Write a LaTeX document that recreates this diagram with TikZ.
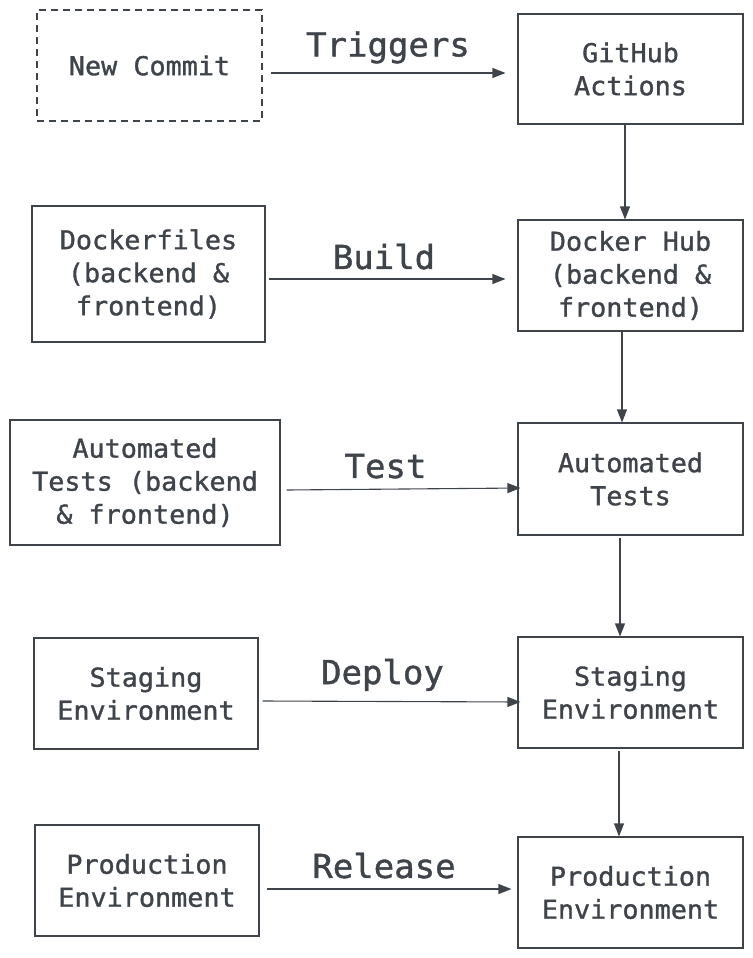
\documentclass[tikz,border=0pt]{standalone}
\usepackage{fontspec}
\usetikzlibrary{arrows.meta}
\newfontfamily\diagmono[FakeStretch=1.03,FakeBold=1.2]{DejaVu Sans Mono}
\definecolor{ink}{HTML}{3F444B}
\tikzset{
  box/.style={draw=ink, line width=1.1pt, text=ink, align=center,
    font=\diagmono\fontsize{26}{33}\selectfont, inner sep=0pt},
  lbl/.style={text=ink, font=\diagmono\fontsize{33}{38}\selectfont, inner sep=0pt},
  arr/.style={draw=ink, line width=1.1pt, -{Triangle[length=13pt,width=10pt]}}
}
\begin{document}
\begin{tikzpicture}[x=1pt,y=-1pt]
\useasboundingbox (0,0) rectangle (752,958);
% left column
\node[box, dashed, dash pattern=on 7pt off 5pt, minimum width=225pt, minimum height=111pt] (nc) at (149.5,65.5) {New Commit};
\node[box, minimum width=233pt, minimum height=136pt] (df) at (148.5,274) {Dockerfiles\\(backend \&\\frontend)};
\node[box, minimum width=270pt, minimum height=125pt] (atl) at (145,482.5) {Automated\\Tests (backend\\\& frontend)};
\node[box, minimum width=224pt, minimum height=111pt] (stl) at (146,693.5) {Staging\\Environment};
\node[box, minimum width=224pt, minimum height=111pt] (prl) at (147,880.5) {Production\\Environment};
% right column
\node[box, minimum width=225pt, minimum height=110pt] (gh) at (630.5,69) {GitHub\\Actions};
\node[box, minimum width=225pt, minimum height=111pt] (dh) at (630.5,275.5) {Docker Hub\\(backend \&\\frontend)};
\node[box, minimum width=225pt, minimum height=112pt] (atr) at (630.5,479) {Automated\\Tests};
\node[box, minimum width=225pt, minimum height=111pt] (str) at (630.5,692.5) {Staging\\Environment};
\node[box, minimum width=225pt, minimum height=111pt] (prr) at (630.5,892.5) {Production\\Environment};
% horizontal arrows
\draw[arr] ([xshift=8pt,yshift=-7.5pt]nc.east) -- ([xshift=-12pt,yshift=-4pt]gh.west)
  node[lbl, pos=0.5, above=9pt] (l1) {Triggers};
\draw[arr] ([xshift=3pt,yshift=-5pt]df.east) -- ([xshift=-12pt,yshift=-3.5pt]dh.west)
  node[lbl, pos=0.5, above=9pt, xshift=-3pt] (l2) {Build};
\draw[arr] ([xshift=6pt,yshift=-7.5pt]atl.east) -- ([xshift=3pt,yshift=-9pt]atr.west)
  node[lbl, pos=0.5, above=10pt, xshift=-18pt] (l3) {Test};
\draw[arr] ([xshift=4pt,yshift=-7.5pt]stl.east) -- ([xshift=3pt,yshift=-9.5pt]str.west)
  node[lbl, pos=0.5, above=10pt, xshift=-9pt] (l4) {Deploy};
\draw[arr] ([xshift=7pt,yshift=-8.5pt]prl.east) -- ([xshift=-6pt,yshift=3.5pt]prr.west)
  node[lbl, pos=0.5, above=10pt, xshift=-5pt] (l5) {Release};
% vertical arrows
\draw[arr] ([xshift=-5.5pt]gh.south) -- ([xshift=-5.5pt]dh.north);
\draw[arr] ([xshift=-8.5pt]dh.south) -- ([xshift=-8.5pt]atr.north);
\draw[arr] ([xshift=-10.5pt,yshift=-2pt]atr.south) -- ([xshift=-10.5pt]str.north);
\draw[arr] ([xshift=-11.5pt,yshift=-2pt]str.south) -- ([xshift=-11.5pt]prr.north);
\end{tikzpicture}
\end{document}
